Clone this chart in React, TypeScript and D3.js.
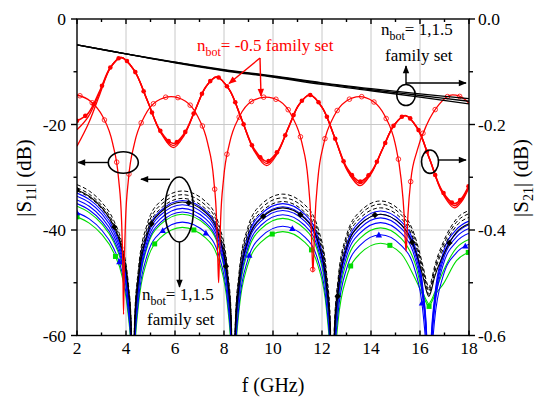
import React, { useEffect, useRef } from "react";
import * as d3 from "d3";

const W = 536;
const H = 400;
const PL = 77, PR = 469, PT = 19, PB = 335.5;

// ---------- axes ----------
const X_TICKS = [2, 4, 6, 8, 10, 12, 14, 16, 18];
const X_MINOR = [3, 5, 7, 9, 11, 13, 15, 17];
const YL_TICKS = [0, -20, -40, -60];
const YL_LABELS = ["0", "-20", "-40", "-60"];
const YL_MINOR = [-10, -30, -50];
const YR_TICKS = [0, -0.2, -0.4, -0.6];
const YR_LABELS = ["0.0", "-0.2", "-0.4", "-0.6"];
const YR_MINOR = [-0.1, -0.3, -0.5];
const GRID_Y = [-20, -40];

// ---------- |S11| for n_bot = 1, 1.5 family (left axis, dB) ----------
const F_S11 = [2.0, 2.5, 3.0, 3.5, 3.85, 4.1, 4.2, 4.27,
  4.35, 4.5, 4.85, 5.4, 6.3, 7.25, 7.8, 8.15, 8.3, 8.38,
  8.46, 8.61, 8.96, 9.51, 10.4, 11.29, 11.84, 12.19, 12.34, 12.42,
  12.5, 12.65, 13.0, 13.55, 14.39, 15.23, 15.78, 16.13, 16.28, 16.36,
  16.44, 16.59, 16.94, 17.49, 18.0];
const S11_D1 = [-31.4, -32.6, -34.7, -38.2, -42.9, -50.4, -56.4, -75,
  -56.9, -47.7, -39.1, -34.6, -32.6, -34.6, -39.1, -47.7, -56.9, -75,
  -57.5, -48.3, -39.7, -35.2, -33.2, -35.2, -39.7, -48.3, -57.5, -75,
  -58.8, -49.6, -41.0, -36.5, -34.5, -36.5, -41.0, -47.0, -50.0, -51.0,
  -50.0, -47.0, -42.4, -37.9, -36.3];
const S11_D2 = [-32.0, -33.2, -35.3, -38.8, -43.5, -51.0, -57.0, -75,
  -57.6, -48.4, -39.8, -35.3, -33.3, -35.3, -39.8, -48.4, -57.6, -75,
  -58.2, -49.0, -40.4, -35.9, -33.9, -35.9, -40.4, -49.0, -58.2, -75,
  -59.4, -50.2, -41.6, -37.1, -35.1, -37.1, -41.6, -47.6, -50.6, -51.6,
  -50.6, -47.6, -43.0, -38.5, -36.9];
const S11_D3 = [-32.6, -33.8, -35.9, -39.4, -44.1, -51.6, -57.6, -75,
  -58.3, -49.1, -40.5, -36.0, -34.0, -36.0, -40.5, -49.1, -58.3, -75,
  -58.9, -49.7, -41.1, -36.6, -34.6, -36.6, -41.1, -49.7, -58.9, -75,
  -60.1, -50.9, -42.3, -37.8, -35.8, -37.8, -42.3, -48.2, -51.2, -52.2,
  -51.2, -48.2, -43.7, -39.2, -37.6];
const S11_K = [-32.4, -33.6, -35.7, -39.2, -43.9, -51.4, -57.4, -75,
  -59.0, -49.8, -41.2, -36.7, -34.7, -36.7, -41.2, -49.8, -59.0, -75,
  -60.1, -50.9, -42.3, -37.8, -35.8, -37.8, -42.3, -50.9, -60.1, -75,
  -61.3, -52.1, -43.5, -39.0, -37.0, -39.0, -43.5, -49.0, -51.8, -52.6,
  -51.8, -49.0, -44.9, -40.4, -38.8];
const S11_B1 = [-33.0, -34.2, -36.3, -39.8, -44.5, -52.0, -58.0, -75,
  -58.7, -49.5, -40.9, -36.4, -34.4, -36.4, -40.9, -49.5, -58.7, -75,
  -59.3, -50.1, -41.5, -37.0, -35.0, -37.0, -41.5, -50.1, -59.3, -75,
  -60.7, -51.5, -42.9, -38.4, -36.4, -38.4, -42.9, -51.5, -60.7, -75,
  -62.2, -53.0, -44.4, -39.9, -38.3];
const S11_B2 = [-33.6, -34.8, -36.9, -40.4, -45.1, -52.6, -58.6, -75,
  -59.5, -50.3, -41.7, -37.2, -35.2, -37.2, -41.7, -50.3, -59.5, -75,
  -59.9, -50.7, -42.1, -37.6, -35.6, -37.6, -42.1, -50.7, -59.9, -75,
  -61.3, -52.1, -43.5, -39.0, -37.0, -39.0, -43.5, -52.1, -61.3, -75,
  -62.9, -53.7, -45.1, -40.6, -39.0];
const S11_B3 = [-34.3, -35.5, -37.6, -41.1, -45.8, -53.3, -59.3, -75,
  -60.2, -51.0, -42.4, -37.9, -35.9, -37.9, -42.4, -51.0, -60.2, -75,
  -60.6, -51.4, -42.8, -38.3, -36.3, -38.3, -42.8, -51.4, -60.6, -75,
  -62.0, -52.8, -44.2, -39.7, -37.7, -39.7, -44.2, -52.8, -62.0, -75,
  -63.6, -54.4, -45.8, -41.3, -39.7];
const S11_B4 = [-35.0, -36.2, -38.3, -41.8, -46.5, -54.0, -60.0, -75,
  -60.9, -51.7, -43.1, -38.6, -36.6, -38.6, -43.1, -51.7, -60.9, -75,
  -61.4, -52.2, -43.6, -39.1, -37.1, -39.1, -43.6, -52.2, -61.4, -75,
  -62.9, -53.7, -45.1, -40.6, -38.6, -40.6, -45.1, -53.7, -62.9, -75,
  -64.5, -55.3, -46.7, -42.2, -40.6];
const S11_G1 = [-35.5, -36.7, -38.8, -42.3, -47.0, -54.5, -60.5, -75,
  -61.3, -52.1, -43.5, -39.0, -37.0, -39.0, -43.5, -52.1, -61.3, -75,
  -62.1, -52.9, -44.3, -39.8, -37.8, -39.8, -44.3, -52.9, -62.1, -75,
  -63.9, -54.7, -46.1, -41.6, -39.6, -41.6, -46.1, -52.0, -53.5, -54.0,
  -53.5, -52.0, -47.9, -43.4, -41.8];
const S11_BT = [-36.7, -37.9, -40.0, -43.5, -48.2, -55.7, -61.7, -75,
  -62.8, -53.6, -45.0, -40.5, -38.5, -40.5, -45.0, -53.6, -62.8, -75,
  -63.6, -54.4, -45.8, -41.3, -39.3, -41.3, -45.8, -54.4, -63.6, -75,
  -65.2, -56.0, -47.4, -42.9, -40.9, -42.9, -47.4, -56.0, -65.2, -75,
  -66.6, -57.4, -48.8, -44.3, -42.7];
const S11_GS = [-37.5, -38.7, -40.8, -44.3, -49.0, -56.5, -62.5, -75,
  -63.8, -54.6, -46.0, -41.5, -39.5, -41.5, -46.0, -54.6, -63.8, -75,
  -64.6, -55.4, -46.8, -42.3, -40.3, -42.3, -46.8, -55.4, -64.6, -75,
  -66.8, -57.6, -49.0, -44.5, -42.5, -44.5, -49.0, -52.5, -54.0, -54.5,
  -54.0, -52.5, -50.3, -45.8, -44.2];
const MK_DIAMOND = [2.0, 3.52, 5.04, 6.56, 8.08, 9.6, 11.12, 12.64, 14.16, 15.68, 17.2];
const MK_TRIANGLE = [2.0, 3.73, 5.5, 7.26, 9.03, 10.79, 12.55, 14.32, 16.08, 17.85];
const MK_SQUARE = [2.0, 3.57, 5.17, 6.77, 8.37, 9.97, 11.57, 13.17, 14.77, 16.37, 17.97];

// ---------- |S11| for n_bot = -0.5 family (left axis, dB) ----------
const F_S11_RED = [2.0, 2.55, 3.05, 3.45, 3.7, 3.82, 3.87, 3.9,
  3.93, 3.98, 4.1, 4.35, 4.75, 5.25, 5.84, 6.43, 6.93, 7.33, 7.58, 7.7, 7.75, 7.78,
  7.81, 7.86, 7.98, 8.23, 8.63, 9.13, 9.705, 10.28, 10.78, 11.18, 11.43, 11.55, 11.6, 11.63,
  11.66, 11.71, 11.83, 12.08, 12.48, 12.98, 13.53, 14.08, 14.58, 14.98, 15.23, 15.35, 15.4, 15.43,
  15.46, 15.51, 15.63, 15.88, 16.28, 16.78, 17.33, 17.88, 18.0];
const S11_RED = [-14.4, -15.6, -18.5, -23.5, -30.4, -38.3, -46.8, -56.0,
  -46.8, -38.3, -30.4, -23.5, -18.5, -15.6, -14.7, -15.6, -18.5, -23.5, -30.4, -38.3, -46.0, -50.0,
  -46.0, -38.3, -30.4, -23.5, -18.5, -15.6, -14.8, -15.6, -18.5, -23.5, -30.4, -38.3, -45.0, -48.0,
  -45.0, -38.3, -30.4, -23.5, -18.5, -15.6, -14.7, -15.6, -18.5, -23.5, -30.4, -37.0, -42.0, -44.0,
  -42.0, -37.0, -30.4, -25.0, -20.0, -16.2, -14.4, -15.4, -16.0];
const MK_OPEN_CIRCLE = [2.12, 2.62, 3.12, 3.62, 4.12, 4.62, 5.12, 5.62, 6.12, 6.62, 7.12, 7.62,
  8.12, 8.62, 9.12, 9.62, 10.12, 10.62, 11.12, 11.62, 12.12, 12.62, 13.12, 13.62, 14.12,
  14.62, 15.12, 15.62, 16.12, 16.62, 17.12, 17.62];

// ---------- |S21| for n_bot = -0.5 family (right axis, dB) ----------
const F_S21_RED = [2.0, 2.45, 2.93, 3.36, 3.8, 4.33, 4.87, 5.4, 5.93, 6.37, 6.82, 7.26, 7.7,
  8.21, 8.72, 9.23, 9.74, 10.18, 10.62, 11.06, 11.5, 12.01, 12.53, 13.04, 13.55,
  14.01, 14.48, 14.94, 15.4, 15.9, 16.4, 16.9, 17.4, 17.7, 18.0];
const S21_RED_A = [-0.193, -0.179, -0.136, -0.092, -0.073, -0.097, -0.1545, -0.212, -0.236,
  -0.2175, -0.173, -0.1285, -0.110, -0.1335, -0.190, -0.2465, -0.270, -0.2515, -0.207,
  -0.1625, -0.144, -0.168, -0.226, -0.284, -0.308, -0.2897, -0.2455, -0.2013, -0.183,
  -0.2075, -0.2665, -0.3255, -0.350, -0.340, -0.315];
const S21_RED_B = [-0.210, -0.186, -0.139, -0.092, -0.073, -0.097, -0.1545, -0.213, -0.240,
  -0.219, -0.173, -0.1285, -0.110, -0.1335, -0.190, -0.248, -0.274, -0.253, -0.207,
  -0.1625, -0.144, -0.168, -0.226, -0.286, -0.312, -0.291, -0.2455, -0.2013, -0.183,
  -0.2075, -0.2665, -0.327, -0.354, -0.343, -0.317];
const S21_RED_C = [-0.241, -0.200, -0.143, -0.093, -0.073, -0.097, -0.1545, -0.214, -0.244,
  -0.221, -0.173, -0.1285, -0.110, -0.1335, -0.190, -0.250, -0.278, -0.255, -0.207,
  -0.1625, -0.144, -0.168, -0.226, -0.288, -0.316, -0.293, -0.2455, -0.2013, -0.183,
  -0.2075, -0.2665, -0.329, -0.358, -0.346, -0.319];
const MK_FILLED_DOT = [2.0, 2.34, 2.68, 3.02, 3.36, 3.7, 4.04, 4.38, 4.72, 5.06, 5.4, 5.74,
  6.08, 6.42, 6.76, 7.1, 7.44, 7.78, 8.12, 8.46, 8.8, 9.14, 9.48, 9.82, 10.16, 10.5,
  10.84, 11.18, 11.52, 11.86, 12.2, 12.54, 12.88, 13.22, 13.56, 13.9, 14.24, 14.58,
  14.92, 15.26, 15.6, 15.94, 16.28, 16.62, 16.96, 17.3, 17.64, 17.98];

// ---------- |S21| for n_bot = 1, 1.5 family (right axis, dB) ----------
const F_S21_K = [2, 4, 6, 8, 10, 12, 14, 16, 18];
const S21_K1 = [-0.049, -0.066, -0.082, -0.096, -0.108, -0.121, -0.132, -0.142, -0.151];
const S21_K2 = [-0.049, -0.066, -0.082, -0.097, -0.109, -0.122, -0.134, -0.145, -0.156];
const S21_K3 = [-0.049, -0.066, -0.083, -0.098, -0.110, -0.124, -0.136, -0.148, -0.161];

const SERIF = "Liberation Serif, Times New Roman, Times, DejaVu Serif, serif";
const RED = "#ff0000";
const BLUE = "#0000ff";
const GREEN = "#00dd00";

export default function App() {
  const ref = useRef<SVGSVGElement | null>(null);

  useEffect(() => {
    document.body.style.margin = "0";
    const svg = d3.select(ref.current as SVGSVGElement);
    svg.selectAll("*").remove();

    const x = d3.scaleLinear().domain([2, 18]).range([PL, PR]);
    const yL = d3.scaleLinear().domain([-60, 0]).range([PB, PT]);
    const yR = d3.scaleLinear().domain([-0.6, 0]).range([PB, PT]);

    const defs = svg.append("defs");
    defs.append("clipPath").attr("id", "plotclip").append("rect")
      .attr("x", PL).attr("y", PT).attr("width", PR - PL).attr("height", PB - PT);
    const mkArrow = (id: string, color: string) => {
      defs.append("marker").attr("id", id).attr("viewBox", "0 0 10 10")
        .attr("refX", 9).attr("refY", 5).attr("markerUnits", "userSpaceOnUse")
        .attr("markerWidth", 9).attr("markerHeight", 8).attr("orient", "auto")
        .append("path").attr("d", "M0,1 L10,5 L0,9 Z").attr("fill", color);
    };
    mkArrow("arrK", "#000");
    mkArrow("arrR", RED);

    svg.append("rect").attr("width", W).attr("height", H).attr("fill", "#fff");

    // grid
    const grid = svg.append("g").attr("stroke", "#c8c8c8").attr("stroke-width", 1);
    X_TICKS.slice(1, -1).forEach((t) => {
      grid.append("line").attr("x1", x(t)).attr("x2", x(t)).attr("y1", PT).attr("y2", PB);
    });
    GRID_Y.forEach((t) => {
      grid.append("line").attr("x1", PL).attr("x2", PR).attr("y1", yL(t)).attr("y2", yL(t));
    });

    const plot = svg.append("g").attr("clip-path", "url(#plotclip)");

    const addLine = (fs: number[], vs: number[], y: d3.ScaleLinear<number, number>,
      color: string, width: number, curve: d3.CurveFactory, dash?: string) => {
      const gen = d3.line<number>().x((_, i) => x(fs[i])).y((v) => y(v)).curve(curve);
      const p = plot.append("path").attr("d", gen(vs) as string).attr("fill", "none")
        .attr("stroke", color).attr("stroke-width", width)
        .attr("stroke-linejoin", "round");
      if (dash) p.attr("stroke-dasharray", dash);
      return p.node() as SVGPathElement;
    };

    const pointAtX = (path: SVGPathElement, tx: number) => {
      const L = path.getTotalLength();
      let lo = 0, hi = L;
      for (let i = 0; i < 40; i++) {
        const mid = (lo + hi) / 2;
        const pt = path.getPointAtLength(mid);
        if (pt.x < tx) lo = mid; else hi = mid;
      }
      return path.getPointAtLength((lo + hi) / 2);
    };

    const addMarkers = (path: SVGPathElement, fs: number[], kind: string, color: string) => {
      fs.forEach((f) => {
        const pt = pointAtX(path, x(f));
        if (kind === "diamond") {
          const s = 3.2;
          plot.append("path").attr("d", `M${pt.x},${pt.y - s}L${pt.x + s},${pt.y}L${pt.x},${pt.y + s}L${pt.x - s},${pt.y}Z`).attr("fill", color);
        } else if (kind === "triangle") {
          const s = 3.2;
          plot.append("path").attr("d", `M${pt.x},${pt.y - s}L${pt.x + s},${pt.y + s * 0.8}L${pt.x - s},${pt.y + s * 0.8}Z`).attr("fill", color);
        } else if (kind === "square") {
          const s = 2.5;
          plot.append("rect").attr("x", pt.x - s).attr("y", pt.y - s).attr("width", 2 * s).attr("height", 2 * s).attr("fill", color);
        } else if (kind === "dot") {
          plot.append("circle").attr("cx", pt.x).attr("cy", pt.y).attr("r", 2.3).attr("fill", color);
        } else if (kind === "open") {
          plot.append("circle").attr("cx", pt.x).attr("cy", pt.y).attr("r", 2.3).attr("fill", "none").attr("stroke", color).attr("stroke-width", 0.8);
        }
      });
    };

    const mono = d3.curveMonotoneX;
    const cat = d3.curveCatmullRom.alpha(0.5);

    // S11 n_bot = 1, 1.5 family
    const pGS = addLine(F_S11, S11_GS, yL, GREEN, 1.1, mono);
    addLine(F_S11, S11_G1, yL, GREEN, 1.1, mono);
    const pBT = addLine(F_S11, S11_BT, yL, BLUE, 1.1, mono);
    addLine(F_S11, S11_B4, yL, BLUE, 1.1, mono);
    addLine(F_S11, S11_B3, yL, BLUE, 1.1, mono);
    addLine(F_S11, S11_B2, yL, BLUE, 1.1, mono);
    addLine(F_S11, S11_B1, yL, BLUE, 1.1, mono);
    const pK = addLine(F_S11, S11_K, yL, "#000", 1.1, mono);
    addLine(F_S11, S11_D3, yL, "#000", 1.0, mono, "4,2.5");
    addLine(F_S11, S11_D2, yL, "#000", 1.0, mono, "4,2.5");
    addLine(F_S11, S11_D1, yL, "#000", 1.0, mono, "4,2.5");
    addMarkers(pGS, MK_SQUARE, "square", GREEN);
    addMarkers(pBT, MK_TRIANGLE, "triangle", BLUE);
    addMarkers(pK, MK_DIAMOND, "diamond", "#000");

    // S11 n_bot = -0.5
    const pR11 = addLine(F_S11_RED, S11_RED, yL, RED, 1.3, mono);
    addMarkers(pR11, MK_OPEN_CIRCLE, "open", RED);

    // S21 n_bot = -0.5
    addLine(F_S21_RED, S21_RED_C, yR, RED, 1.3, cat);
    addLine(F_S21_RED, S21_RED_B, yR, RED, 1.3, cat);
    const pR21 = addLine(F_S21_RED, S21_RED_A, yR, RED, 1.6, cat);
    addMarkers(pR21, MK_FILLED_DOT, "dot", RED);

    // S21 n_bot = 1, 1.5
    addLine(F_S21_K, S21_K3, yR, "#000", 1.4, cat);
    addLine(F_S21_K, S21_K2, yR, "#000", 1.4, cat);
    addLine(F_S21_K, S21_K1, yR, "#000", 1.4, cat);

    // ----- annotations -----
    const ann = svg.append("g");
    const ell = (cx: number, cy: number, rx: number, ry: number) =>
      ann.append("ellipse").attr("cx", cx).attr("cy", cy).attr("rx", rx).attr("ry", ry)
        .attr("fill", "none").attr("stroke", "#000").attr("stroke-width", 1.6);
    const arrow = (x1: number, y1: number, x2: number, y2: number, color = "#000", id = "arrK") =>
      ann.append("line").attr("x1", x1).attr("y1", y1).attr("x2", x2).attr("y2", y2)
        .attr("stroke", color).attr("stroke-width", 1.4).attr("marker-end", `url(#${id})`);

    ell(123.3, 162.5, 15, 10.8);
    arrow(108.3, 162.5, 78, 162.5);
    ell(179.2, 209.5, 14.2, 32.5);
    arrow(170, 179.3, 141, 179.3);
    arrow(179.5, 242, 179.5, 287);
    ell(406, 95, 9.3, 10.5);
    arrow(406, 83, 466, 83);
    arrow(406, 84.5, 406, 66);
    ell(430, 161.7, 8.5, 11.7);
    arrow(438.5, 160, 466, 160);
    arrow(260, 58, 229, 83.5, RED, "arrR");
    arrow(260, 58, 261, 96, RED, "arrR");

    const AF = 17;
    const nbot = (tx: number, ty: number, rest: string, color: string) => {
      const t = ann.append("text").attr("x", tx).attr("y", ty).attr("fill", color)
        .attr("font-family", SERIF).attr("font-size", AF);
      t.append("tspan").text("n");
      t.append("tspan").attr("dy", 5).attr("font-size", 12).text("bot");
      t.append("tspan").attr("dy", -5).text(rest);
    };
    nbot(197, 51, "= -0.5 family set", RED);
    nbot(381, 35, "= 1,1.5", "#000");
    ann.append("text").attr("x", 385).attr("y", 61).attr("font-family", SERIF)
      .attr("font-size", AF).text("family set");
    nbot(142, 300, "= 1,1.5", "#000");
    ann.append("text").attr("x", 147).attr("y", 325).attr("font-family", SERIF)
      .attr("font-size", AF).text("family set");

    // ----- axes frame and ticks -----
    const ax = svg.append("g").attr("stroke", "#000").attr("stroke-width", 1.4);
    ax.append("rect").attr("x", PL).attr("y", PT).attr("width", PR - PL).attr("height", PB - PT).attr("fill", "none");
    X_TICKS.forEach((t) => {
      ax.append("line").attr("x1", x(t)).attr("x2", x(t)).attr("y1", PB).attr("y2", PB - 5);
      ax.append("line").attr("x1", x(t)).attr("x2", x(t)).attr("y1", PT).attr("y2", PT + 5);
    });
    X_MINOR.forEach((t) => {
      ax.append("line").attr("x1", x(t)).attr("x2", x(t)).attr("y1", PB).attr("y2", PB - 3);
      ax.append("line").attr("x1", x(t)).attr("x2", x(t)).attr("y1", PT).attr("y2", PT + 3);
    });
    YL_TICKS.forEach((t) => {
      ax.append("line").attr("x1", PL - 6).attr("x2", PL).attr("y1", yL(t)).attr("y2", yL(t));
    });
    YL_MINOR.forEach((t) => {
      ax.append("line").attr("x1", PL - 3.5).attr("x2", PL).attr("y1", yL(t)).attr("y2", yL(t));
    });
    YR_TICKS.forEach((t) => {
      ax.append("line").attr("x1", PR).attr("x2", PR + 6).attr("y1", yR(t)).attr("y2", yR(t));
    });
    YR_MINOR.forEach((t) => {
      ax.append("line").attr("x1", PR).attr("x2", PR + 4).attr("y1", yR(t)).attr("y2", yR(t));
    });

    const lab = svg.append("g").attr("font-family", SERIF).attr("font-size", 17.5).attr("fill", "#000");
    X_TICKS.forEach((t) => {
      lab.append("text").attr("x", x(t)).attr("y", 354).attr("text-anchor", "middle").text(String(t));
    });
    YL_TICKS.forEach((t, i) => {
      lab.append("text").attr("x", 66).attr("y", yL(t) + 6).attr("text-anchor", "end").text(YL_LABELS[i]);
    });
    YR_TICKS.forEach((t, i) => {
      lab.append("text").attr("x", 478).attr("y", yR(t) + 6).attr("text-anchor", "start").text(YR_LABELS[i]);
    });

    // titles
    svg.append("text").attr("x", 273).attr("y", 392).attr("text-anchor", "middle")
      .attr("font-family", SERIF).attr("font-size", 20).text("f (GHz)");
    const ytitle = (tx: number, sub: string) => {
      const t = svg.append("text").attr("transform", `translate(${tx},178) rotate(-90)`)
        .attr("text-anchor", "middle").attr("font-family", SERIF).attr("font-size", 21);
      t.append("tspan").text("|S");
      t.append("tspan").attr("dy", 5).attr("font-size", 14).text(sub);
      t.append("tspan").attr("dy", -5).text("| (dB)");
    };
    ytitle(31, "11");
    ytitle(528, "21");
  }, []);

  return (
    <svg ref={ref} width={W} height={H} style={{ position: "absolute", left: 0, top: 0, display: "block" }} />
  );
}
